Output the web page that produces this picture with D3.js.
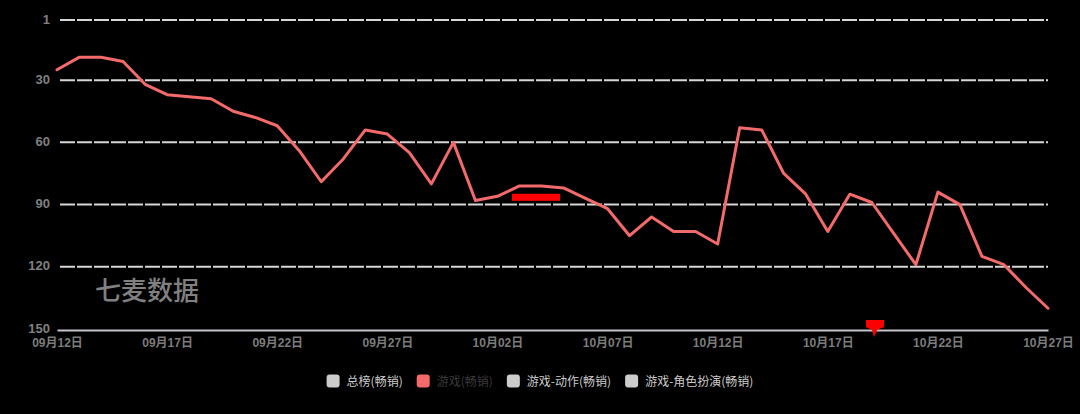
<!DOCTYPE html>
<html>
<head>
<meta charset="utf-8">
<script src="https://cdn.jsdelivr.net/npm/d3@7"></script>
<style>
  html, body { margin: 0; padding: 0; background: #000; }
  svg { display: block; }
</style>
</head>
<body>
<svg id="chart" width="1080" height="414"></svg>
<script>
// ---- data ----
const dates = ["09月12日","09月13日","09月14日","09月15日","09月16日","09月17日","09月18日","09月19日","09月20日","09月21日",
  "09月22日","09月23日","09月24日","09月25日","09月26日","09月27日","09月28日","09月29日","09月30日","10月01日",
  "10月02日","10月03日","10月04日","10月05日","10月06日","10月07日","10月08日","10月09日","10月10日","10月11日",
  "10月12日","10月13日","10月14日","10月15日","10月16日","10月17日","10月18日","10月19日","10月20日","10月21日",
  "10月22日","10月23日","10月24日","10月25日","10月26日","10月27日"];
const ranks = [25,19,19,21,32,37,38,39,45,48,52,64,79,68,54,56,65,80,60,88,86,81,81,82,87,92,105,96,103,103,109,53,54,75,85,103,85,89,104,119,84,90,115,119,130,140];
const yTicks = [1,30,60,90,120,150];
const xTickLabels = ["09月12日","09月17日","09月22日","09月27日","10月02日","10月07日","10月12日","10月17日","10月22日","10月27日"];
const legendNames = ["总榜(畅销)","游戏(畅销)","游戏-动作(畅销)","游戏-角色扮演(畅销)"];
const legendActive = [false,true,false,false];
// event markers (fractional day index, rank)
const bandEvent = [{from: 20.66, to: 22.84, rankTop: 84.8, rankBottom: 88.2}];
const flagEvent = [{day: 37.1}];

// ---- layout ----
const svg = d3.select("#chart");
const lineColor = "#f26b6a";
const x = d3.scaleLinear().domain([0, dates.length - 1]).range([57, 1048]);
const y = d3.scaleLinear().domain([1, 150]).range([20, 329]);

// gridlines
const grid = svg.append("g");
grid.selectAll("line").data(yTicks.filter(d => d !== 150)).join("line")
  .attr("x1", 60).attr("x2", 1048)
  .attr("y1", d => y(d)).attr("y2", d => y(d))
  .attr("stroke", "#d6d6d6").attr("stroke-width", 2)
  .attr("stroke-dasharray", "15,2");

// y axis labels
const yAxis = d3.axisLeft(y).tickValues(yTicks).tickSize(0).tickPadding(0);
const yg = svg.append("g").attr("transform", "translate(50,-1)").call(yAxis);
yg.select(".domain").remove();
yg.selectAll("text")
  .attr("fill", "#808080")
  .style("font-family", "'Liberation Sans', Arial, sans-serif")
  .style("font-weight", "bold")
  .style("font-size", "13px");

// x axis
const xg = svg.append("g").attr("transform", "translate(0,330)")
  .call(d3.axisBottom(x)
    .tickValues(xTickLabels.map(l => dates.indexOf(l)))
    .tickFormat(i => dates[i]).tickSize(0).tickPadding(8));
xg.select(".domain").attr("stroke", "#c4c4cc").attr("stroke-width", 2);
xg.selectAll("text")
  .attr("fill", "#7c7c7c")
  .style("font-family", "'Liberation Sans', 'Noto Sans CJK SC', sans-serif")
  .style("font-weight", "bold")
  .style("font-size", "12px");

// watermark
svg.append("text").attr("x", 95).attr("y", 300)
  .text("七麦数据")
  .attr("fill", "#808080")
  .style("font-family", "'Noto Sans CJK SC', sans-serif")
  .style("font-size", "26px")
  .style("font-weight", "500");

// line
const line = d3.line().x((d, i) => x(i)).y(d => y(d));
svg.append("path").datum(ranks)
  .attr("d", line)
  .attr("fill", "none")
  .attr("stroke", lineColor)
  .attr("stroke-width", 3)
  .attr("stroke-linejoin", "round")
  .attr("stroke-linecap", "round");

// band event
svg.selectAll("rect.band").data(bandEvent).join("rect")
  .attr("class", "band")
  .attr("x", d => x(d.from)).attr("width", d => x(d.to) - x(d.from))
  .attr("y", d => y(d.rankTop)).attr("height", d => y(d.rankBottom) - y(d.rankTop))
  .attr("fill", "#ff0000");

// flag event
svg.selectAll("path.flag").data(flagEvent).join("path")
  .attr("class", "flag")
  .attr("transform", d => `translate(${x(d.day)},${y(150)})`)
  .attr("d", "M-8,-9 L10,-9 L10,-2 L3,1 L0,8 L-2,1 L-8,-2 Z")
  .attr("fill", "#ff0000");

// legend
const lg = svg.append("g");
let lx = 0;
legendNames.forEach((name, i) => {
  const g = lg.append("g");
  g.append("rect").attr("x", 0).attr("y", -6.5).attr("width", 13).attr("height", 13).attr("rx", 3)
    .attr("fill", legendActive[i] ? lineColor : "#cccccc");
  const t = g.append("text").attr("x", 20).attr("y", 4.5).text(name)
    .attr("fill", legendActive[i] ? "#3a3a3a" : "#cccccc")
    .style("font-family", "'Noto Sans CJK SC', sans-serif")
    .style("font-size", "12px");
  const w = 20 + t.node().getComputedTextLength();
  g.attr("transform", `translate(${lx},0)`);
  lx += w + 14;
});
const totalW = lx - 14;
lg.attr("transform", `translate(${540 - totalW / 2},381)`);
</script>
</body>
</html>
